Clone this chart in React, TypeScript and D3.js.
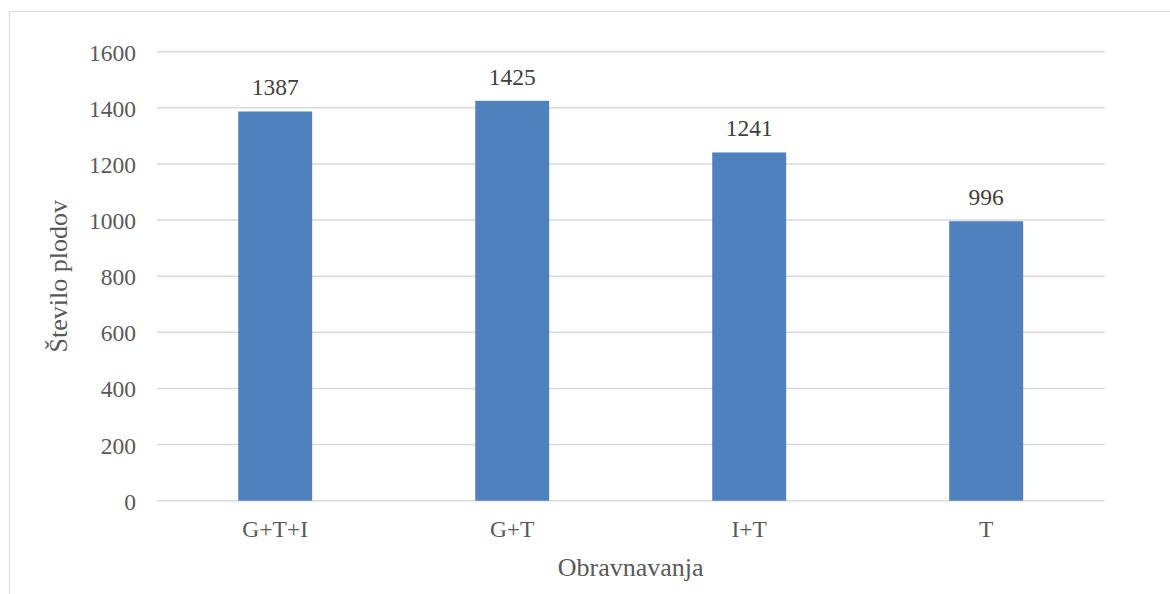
import React from "react";
import * as d3 from "d3";

const categories = ["G+T+I", "G+T", "I+T", "T"];
const values = [1387, 1425, 1241, 996];
const yTicks = [0, 200, 400, 600, 800, 1000, 1200, 1400, 1600];

const W = 1170;
const H = 594;
const margin = { left: 156.7, right: 1104.7, top: 51.7, bottom: 500.7 };
const font = "'Liberation Serif', 'Times New Roman', serif";

export default function App() {
  const x = d3.scaleBand<string>().domain(categories).range([margin.left, margin.right]).paddingInner(0.688).paddingOuter(0.344);
  const y = d3.scaleLinear().domain([0, 1600]).range([margin.bottom, margin.top]);
  const txt = { fontFamily: font };
  return (
    <svg width={W} height={H} style={{ position: "absolute", left: 0, top: 0, background: "#fff" }}>
      <rect x={9.5} y={11.5} width={W} height={H} fill="#fff" stroke="#d9d9d9" strokeWidth={1} />
      {yTicks.map((t) => (
        <g key={t}>
          <line x1={margin.left} x2={margin.right} y1={y(t)} y2={y(t)} stroke="#d9d9d9" strokeWidth={1.5} />
          <text x={136} y={y(t) + 9} textAnchor="end" style={txt} fontSize={23.5} fill="#595959">{t}</text>
        </g>
      ))}
      {categories.map((c, i) => {
        const bx = x(c)!;
        const bw = x.bandwidth();
        return (
          <g key={c}>
            <rect x={bx} y={y(values[i])} width={bw} height={y(0) - y(values[i])} fill="#4f81bd" />
            <text x={bx + bw / 2} y={y(values[i]) - 16} textAnchor="middle" style={txt} fontSize={23.5} fill="#404040">{values[i]}</text>
            <text x={bx + bw / 2} y={537} textAnchor="middle" style={txt} fontSize={23.5} fill="#595959">{c}</text>
          </g>
        );
      })}
      <text x={(margin.left + margin.right) / 2} y={576} textAnchor="middle" style={txt} fontSize={26} fill="#595959">Obravnavanja</text>
      <text transform={`translate(67, ${(margin.top + margin.bottom) / 2}) rotate(-90)`} textAnchor="middle" style={txt} fontSize={26} fill="#595959">Število plodov</text>
    </svg>
  );
}
